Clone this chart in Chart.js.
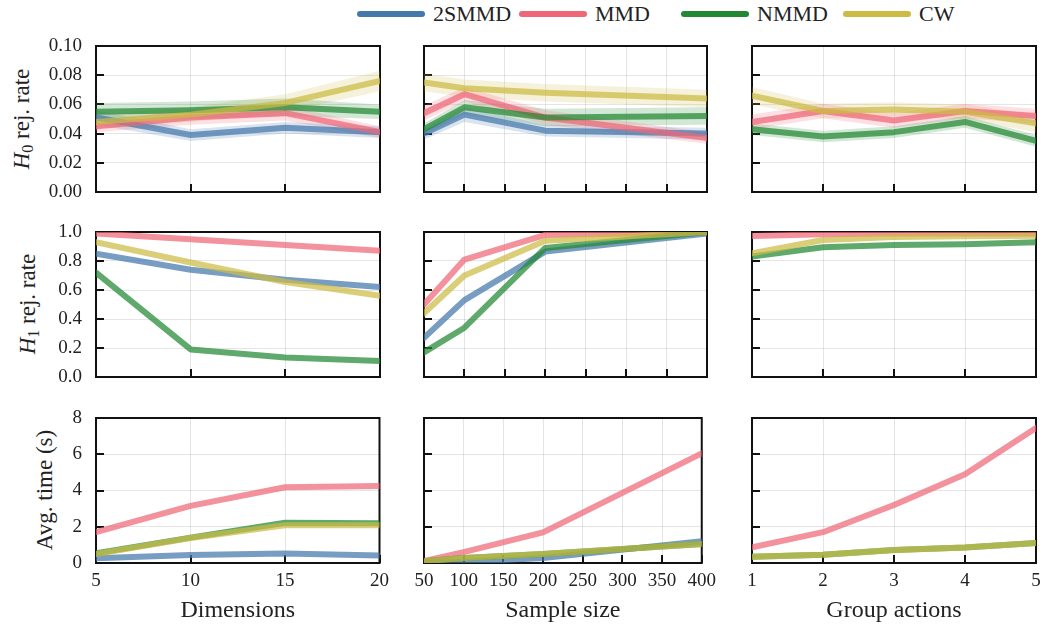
<!DOCTYPE html>
<html>
<head>
<meta charset="utf-8">
<script src="https://cdn.jsdelivr.net/npm/chart.js@4.4.0/dist/chart.umd.min.js"></script>
<style>
    body { margin: 0; width: 1042px; height: 628px; position: relative; background: #fff; overflow: hidden; font-family: 'Liberation Serif', serif; color: #222; }
    canvas { position: absolute; }
    .ytitle { position: absolute; transform: translate(-50%, -50%) rotate(-90deg); white-space: nowrap; font-size: 23px; }
    .ytitle sub { font-size: 16px; vertical-align: -4px; line-height: 0; }
    .leg { position: absolute; top: 2px; height: 24px; display: flex; align-items: center; font-size: 22px; white-space: nowrap; }
    .leg span { display: inline-block; width: 68px; height: 6px; border-radius: 3px; margin-right: 8px; }
</style>
</head>
<body>
<div class="leg" style="left:357px"><span style="background:#4477AA"></span>2SMMD</div>
<div class="leg" style="left:519px"><span style="background:#EE6677"></span>MMD</div>
<div class="leg" style="left:681px"><span style="background:#228833"></span>NMMD</div>
<div class="leg" style="left:843px"><span style="background:#CCBB44"></span>CW</div>

<div class="ytitle" style="left:22px; top:119px"><i>H</i><sub>0</sub> rej. rate</div>
<div class="ytitle" style="left:28px; top:304px"><i>H</i><sub>1</sub> rej. rate</div>
<div class="ytitle" style="left:45px; top:490px">Avg. time (s)</div>

<script>
const methods = ['2SMMD', 'MMD', 'NMMD', 'CW'];
const colors = ['#4477AA', '#EE6677', '#228833', '#CCBB44'];

const dimX = [5, 10, 15, 20];
const sizeX = [50, 100, 200, 400];
const groupX = [1, 2, 3, 4, 5];
const xTitles = ['Dimensions', 'Sample size', 'Group actions'];

// rows: 2SMMD, MMD, NMMD, CW
const dimH0 = [
    [0.051, 0.039, 0.044, 0.041],
    [0.045, 0.051, 0.054, 0.041],
    [0.055, 0.056, 0.058, 0.055],
    [0.048, 0.053, 0.061, 0.076]
];
const dimH0Err = [
    [0.005, 0.004, 0.004, 0.004],
    [0.004, 0.005, 0.005, 0.004],
    [0.006, 0.006, 0.006, 0.005],
    [0.005, 0.005, 0.006, 0.007]
];
const sizeH0 = [
    [0.040, 0.053, 0.042, 0.040],
    [0.054, 0.067, 0.051, 0.037],
    [0.043, 0.058, 0.051, 0.052],
    [0.075, 0.071, 0.068, 0.064]
];
const sizeH0Err = [
    [0.004, 0.005, 0.004, 0.004],
    [0.005, 0.005, 0.005, 0.004],
    [0.004, 0.005, 0.006, 0.006],
    [0.006, 0.006, 0.006, 0.006]
];
const groupH0 = [
    null,
    [0.048, 0.0555, 0.049, 0.0555, 0.052],
    [0.043, 0.038, 0.041, 0.048, 0.035],
    [0.066, 0.0555, 0.0565, 0.055, 0.047]
];
const groupH0Err = [
    null,
    [0.005, 0.005, 0.005, 0.005, 0.005],
    [0.004, 0.004, 0.004, 0.004, 0.004],
    [0.006, 0.005, 0.005, 0.005, 0.006]
];

const dimH1 = [
    [0.85, 0.74, 0.67, 0.62],
    [0.99, 0.95, 0.91, 0.87],
    [0.72, 0.19, 0.135, 0.11],
    [0.93, 0.79, 0.655, 0.56]
];
const sizeH1 = [
    [0.27, 0.53, 0.865, 0.99],
    [0.50, 0.81, 0.98, 1.0],
    [0.17, 0.34, 0.89, 1.0],
    [0.44, 0.70, 0.94, 1.0]
];
const groupH1 = [
    null,
    [0.972, 0.985, 0.99, 0.99, 0.99],
    [0.83, 0.895, 0.91, 0.915, 0.93],
    [0.853, 0.945, 0.965, 0.97, 0.975]
];

const dimTime = [
    [0.26, 0.44, 0.53, 0.42],
    [1.7, 3.15, 4.18, 4.25],
    [0.53, 1.4, 2.22, 2.2],
    [0.5, 1.38, 2.08, 2.08]
];
const sizeTime = [
    [0.0, 0.05, 0.28, 1.2],
    [0.1, 0.6, 1.69, 6.05],
    [0.1, 0.27, 0.5, 1.05],
    [0.1, 0.28, 0.5, 1.05]
];
const groupTime = [
    null,
    [0.87, 1.7, 3.2, 4.9, 7.45],
    [0.35, 0.45, 0.72, 0.85, 1.1],
    [0.35, 0.45, 0.72, 0.85, 1.1]
];

// layout of the 3x3 grid (pixels)
const plotLeft = [96, 424, 752];
const plotWidth = [284, 283, 284];
const plotTop = [46, 232, 418];
const plotHeight = [146, 145, 145];
const PAD_TOP = 30;
const PAD_RIGHT = 16;
const Y_AXIS_W = 96;

const yMax = [0.1, 1, 8];
const yStep = [0.02, 0.2, 2];
const yDigits = [2, 1, 0];
const xSteps = [5, 50, 1];
const xs = [dimX, sizeX, groupX];

const panels = [
    [dimH0, sizeH0, groupH0],
    [dimH1, sizeH1, groupH1],
    [dimTime, sizeTime, groupTime]
];
const bands = [dimH0Err, sizeH0Err, groupH0Err];

const FONT = "'Liberation Serif', 'DejaVu Serif', serif";

function rgba(hex, a) {
    const n = parseInt(hex.slice(1), 16);
    return `rgba(${(n >> 16) & 255}, ${(n >> 8) & 255}, ${n & 255}, ${a})`;
}

// box frame + inward ticks like the original figure
const framePlugin = {
    id: 'frame',
    beforeDatasetsDraw(chart) {
        const { ctx, chartArea: a, scales: { x, y } } = chart;
        ctx.save();
        ctx.strokeStyle = '#111';
        ctx.lineWidth = 2;
        ctx.strokeRect(a.left, a.top, a.right - a.left, a.bottom - a.top);
        ctx.beginPath();
        x.ticks.forEach(t => {
            const px = Math.round(x.getPixelForValue(t.value));
            ctx.moveTo(px, a.bottom);
            ctx.lineTo(px, a.bottom - 8);
        });
        y.ticks.forEach(t => {
            const py = Math.round(y.getPixelForValue(t.value));
            ctx.moveTo(a.left, py);
            ctx.lineTo(a.left + 8, py);
        });
        ctx.stroke();
        ctx.restore();
    }
};

function buildDatasets(xVals, series, errs) {
    const datasets = [];
    series.forEach((vals, i) => {
        if (!vals) return;
        if (errs && errs[i]) {
            datasets.push({
                data: xVals.map((x, k) => ({ x, y: vals[k] - errs[i][k] })),
                borderWidth: 0, pointRadius: 0, fill: false, order: 20
            });
            datasets.push({
                data: xVals.map((x, k) => ({ x, y: vals[k] + errs[i][k] })),
                borderWidth: 0, pointRadius: 0, fill: '-1', order: 20,
                backgroundColor: rgba(colors[i], 0.2)
            });
        }
        datasets.push({
            label: methods[i],
            data: xVals.map((x, k) => ({ x, y: vals[k] })),
            borderColor: rgba(colors[i], 0.72),
            borderWidth: 6,
            borderCapStyle: 'round',
            borderJoinStyle: 'round',
            pointRadius: 0,
            fill: false,
            tension: 0,
            order: 3 - i
        });
    });
    return datasets;
}

for (let r = 0; r < 3; r++) {
    for (let c = 0; c < 3; c++) {
        const bottomH = r === 2 ? 65 : 30;
        const canvas = document.createElement('canvas');
        canvas.width = Y_AXIS_W + plotWidth[c] + PAD_RIGHT;
        canvas.height = PAD_TOP + plotHeight[r] + bottomH;
        canvas.style.left = (plotLeft[c] - Y_AXIS_W) + 'px';
        canvas.style.top = (plotTop[r] - PAD_TOP) + 'px';
        document.body.appendChild(canvas);

        const xVals = xs[c];
        new Chart(canvas.getContext('2d'), {
            type: 'line',
            data: { datasets: buildDatasets(xVals, panels[r][c], r === 0 ? bands[c] : null) },
            options: {
                responsive: false,
                animation: false,
                devicePixelRatio: 1,
                layout: { padding: { top: PAD_TOP, right: PAD_RIGHT, left: 0, bottom: 0 } },
                plugins: { legend: { display: false }, tooltip: { enabled: false } },
                scales: {
                    x: {
                        type: 'linear',
                        min: xVals[0],
                        max: xVals[xVals.length - 1],
                        ticks: {
                            stepSize: xSteps[c],
                            display: r === 2,
                            padding: 7,
                            maxRotation: 0,
                            color: '#222',
                            font: { family: FONT, size: 19 }
                        },
                        grid: { color: 'rgba(0,0,0,0.1)', lineWidth: 1, drawTicks: false },
                        border: { display: false },
                        title: {
                            display: r === 2,
                            text: xTitles[c],
                            color: '#222',
                            font: { family: FONT, size: 24 },
                            padding: { top: 0, bottom: 3 }
                        },
                        afterFit: s => { s.height = bottomH; }
                    },
                    y: {
                        min: 0,
                        max: yMax[r],
                        ticks: {
                            stepSize: yStep[r],
                            display: c === 0,
                            padding: 14,
                            color: '#222',
                            font: { family: FONT, size: 19 },
                            callback: v => Number(v).toFixed(yDigits[r])
                        },
                        grid: { color: 'rgba(0,0,0,0.1)', lineWidth: 1, drawTicks: false },
                        border: { display: false },
                        afterFit: s => { s.width = Y_AXIS_W; }
                    }
                }
            },
            plugins: [framePlugin]
        });
    }
}
</script>
</body>
</html>
